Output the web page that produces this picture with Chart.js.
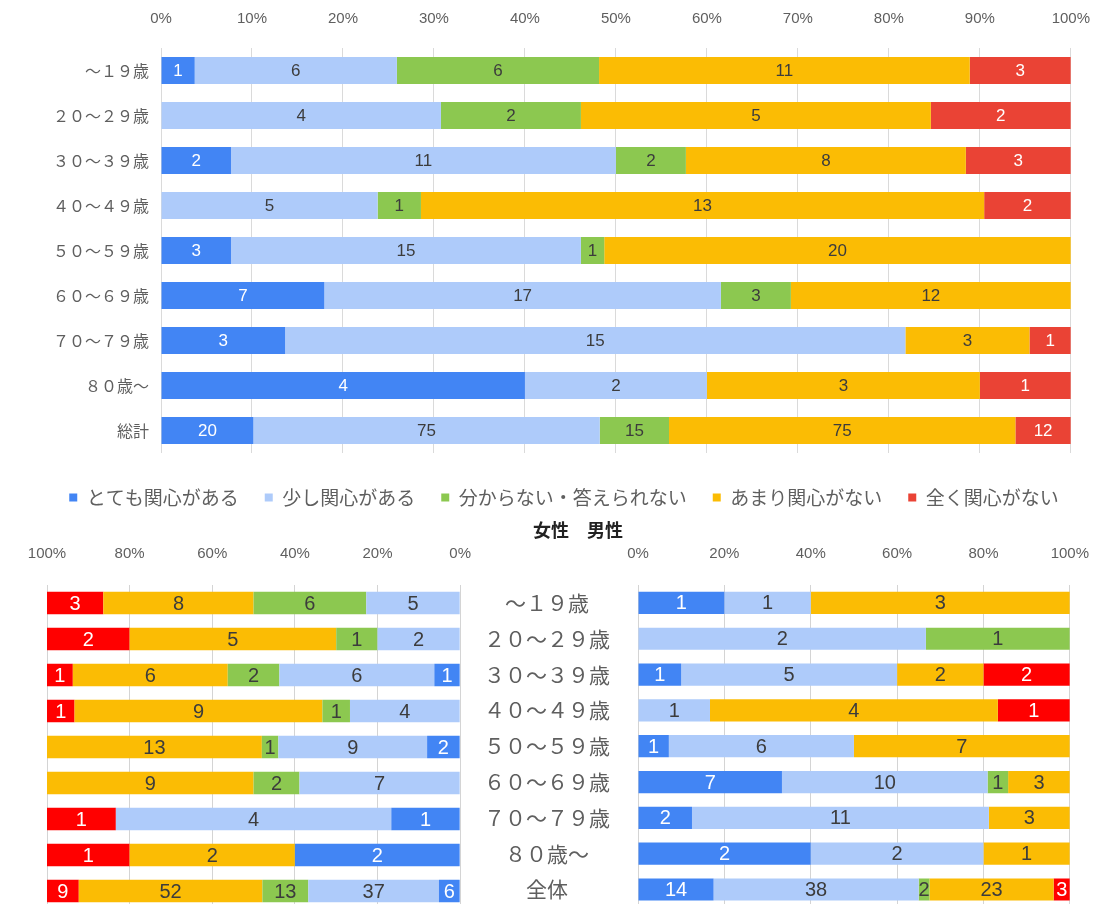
<!DOCTYPE html>
<html>
<head>
<meta charset="utf-8">
<script src="https://cdn.jsdelivr.net/npm/chart.js@4.4.1/dist/chart.umd.min.js"></script>
<style>
  html, body { margin: 0; padding: 0; background: #fff; overflow: hidden; }
  #wrap { position: relative; width: 1102px; height: 904px; overflow: hidden; }
  canvas { position: absolute; }
  #top { left: 0; top: 0; }
  #female { left: 0; top: 540px; }
  #male { left: 470px; top: 540px; }
  #sub { position: absolute; left: 533px; top: 516px; font: bold 18px "Noto Sans CJK JP"; color: #222; white-space: pre; }
</style>
</head>
<body>
<div id="wrap">
  <canvas id="top" width="1110" height="521"></canvas>
  <div id="sub">女性　男性</div>
  <canvas id="female" width="493" height="371"></canvas>
  <canvas id="male" width="641" height="408"></canvas>
</div>
<script>
const seriesNames = ["とても関心がある", "少し関心がある", "分からない・答えられない", "あまり関心がない", "全く関心がない"];
const topLabels = ["～１９歳", "２０～２９歳", "３０～３９歳", "４０～４９歳", "５０～５９歳", "６０～６９歳", "７０～７９歳", "８０歳～", "総計"];
const subLabels = ["～１９歳", "２０～２９歳", "３０～３９歳", "４０～４９歳", "５０～５９歳", "６０～６９歳", "７０～７９歳", "８０歳～", "全体"];

// 全体
const allVery     = [1, 0, 2, 0, 3, 7, 3, 4, 20];
const allSome     = [6, 4, 11, 5, 15, 17, 15, 2, 75];
const allUnknown  = [6, 2, 2, 1, 1, 3, 0, 0, 15];
const allNotMuch  = [11, 5, 8, 13, 20, 12, 3, 3, 75];
const allNone     = [3, 2, 3, 2, 0, 0, 1, 1, 12];

// 女性
const femVery     = [0, 0, 1, 0, 2, 0, 1, 2, 6];
const femSome     = [5, 2, 6, 4, 9, 7, 4, 0, 37];
const femUnknown  = [6, 1, 2, 1, 1, 2, 0, 0, 13];
const femNotMuch  = [8, 5, 6, 9, 13, 9, 0, 2, 52];
const femNone     = [3, 2, 1, 1, 0, 0, 1, 1, 9];

// 男性
const maleVery    = [1, 0, 1, 0, 1, 7, 2, 2, 14];
const maleSome    = [1, 2, 5, 1, 6, 10, 11, 2, 38];
const maleUnknown = [0, 1, 0, 0, 0, 1, 0, 0, 2];
const maleNotMuch = [3, 0, 2, 4, 7, 3, 3, 1, 23];
const maleNone    = [0, 0, 2, 1, 0, 0, 0, 0, 3];

const topColors = ["#4285F4", "#AECBFA", "#8CC850", "#FBBC04", "#EA4335"];
const subColors = ["#4285F4", "#AECBFA", "#8CC850", "#FBBC04", "#FF0000"];
const textColors = ["#ffffff", "#3c3c3c", "#3c3c3c", "#3c3c3c", "#ffffff"];

const jpFont = '"Noto Sans CJK JP", sans-serif';
const numFont = '"Liberation Sans", Arial, sans-serif';
const grey = "#5f5f5f";

// counts -> 100% stacked
function makeSets(series, colors, thick) {
  const totals = series[0].map((_, j) => series.reduce((s, a) => s + a[j], 0));
  return series.map((a, i) => ({
    label: seriesNames[i],
    data: a.map((v, j) => v / totals[j] * 100),
    counts: a,
    backgroundColor: colors[i],
    labelColor: textColors[i],
    barPercentage: thick,
    categoryPercentage: 1
  }));
}

const valueLabels = {
  id: "valueLabels",
  afterDatasetsDraw(chart, args, opts) {
    const ctx = chart.ctx;
    ctx.save();
    ctx.font = opts.size + "px " + numFont;
    ctx.textAlign = "center";
    ctx.textBaseline = "middle";
    chart.data.datasets.forEach((ds, i) => {
      chart.getDatasetMeta(i).data.forEach((bar, j) => {
        const n = ds.counts[j];
        if (!n) return;
        const p = bar.getCenterPoint();
        ctx.fillStyle = ds.labelColor;
        ctx.fillText(n, p.x, p.y + 1);
      });
    });
    ctx.restore();
  }
};

new Chart(document.getElementById("top"), {
  type: "bar",
  data: {
    labels: topLabels,
    datasets: makeSets([allVery, allSome, allUnknown, allNotMuch, allNone], topColors, 0.6)
  },
  options: {
    indexAxis: "y",
    responsive: false,
    animation: false,
    layout: { padding: { left: 18, right: 0, top: 0, bottom: 4 } },
    scales: {
      x: {
        position: "top", stacked: true, min: 0, max: 100,
        ticks: { stepSize: 10, callback: v => v + "%", color: grey, font: { family: numFont, size: 15 }, padding: 20 },
        grid: { color: "#dadada", drawTicks: false },
        border: { display: false },
        afterFit: s => { s.height = 48; }
      },
      x2: {
        type: "linear", position: "bottom", display: true,
        ticks: { display: false }, grid: { display: false }, border: { display: false },
        afterFit: s => { s.height = 9; }
      },
      y: {
        stacked: true,
        grid: { display: false, drawTicks: false },
        border: { display: false },
        ticks: { color: grey, font: { family: jpFont, size: 16 }, padding: 12 },
        afterFit: s => { s.width = 143; }
      }
    },
    plugins: {
      legend: {
        position: "bottom",
        labels: { boxWidth: 8, boxHeight: 8, padding: 26, color: grey, font: { family: jpFont, size: 19 } }
      },
      tooltip: { enabled: false },
      valueLabels: { size: 17 }
    }
  },
  plugins: [valueLabels]
});

function subChart(id, series, reverse) {
  return new Chart(document.getElementById(id), {
    type: "bar",
    data: { labels: subLabels, datasets: makeSets(series, subColors, 0.62) },
    options: {
      indexAxis: "y",
      responsive: false,
      animation: false,
      layout: { padding: { left: reverse ? 47 : 0, right: 0, top: 0, bottom: 2 } },
      scales: {
        x: {
          position: "top", stacked: true, min: 0, max: 100, reverse: reverse,
          ticks: { stepSize: 20, callback: v => v + "%", color: grey, font: { family: numFont, size: 15 }, padding: 22 },
          grid: { color: "#d4d4d4", drawTicks: false },
          border: { display: false },
          afterFit: s => { s.height = 45; }
        },
        y: {
          stacked: true,
          display: !reverse,
          grid: { display: false, drawTicks: false },
          border: { display: false },
          ticks: { color: grey, font: { family: jpFont, size: 21 }, crossAlign: "center", padding: 28 },
          afterFit: s => { s.width = reverse ? 0 : 168; }
        }
      },
      plugins: {
        legend: { display: false },
        tooltip: { enabled: false },
        valueLabels: { size: 20 }
      }
    },
    plugins: [valueLabels]
  });
}

subChart("female", [femVery, femSome, femUnknown, femNotMuch, femNone], true);
subChart("male", [maleVery, maleSome, maleUnknown, maleNotMuch, maleNone], false);
</script>
</body>
</html>
